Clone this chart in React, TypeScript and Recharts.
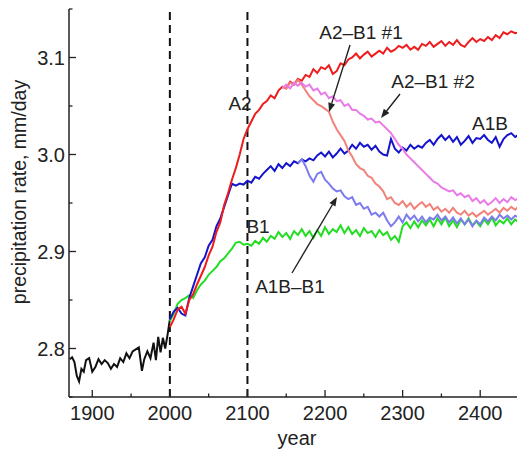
import { LineChart, Line, XAxis, YAxis, ReferenceLine } from "recharts";

// historical run
const histYears = [
  1871, 1874, 1877, 1880, 1883, 1886, 1889, 1892, 1896, 1900, 1904, 1908, 1912,
  1916, 1920, 1924, 1928, 1932, 1936, 1940, 1944, 1948, 1952, 1956, 1960, 1964,
  1967, 1971, 1975, 1979, 1982, 1985, 1988, 1991, 1994, 1997, 2000,
];
const histValues = [
  2.789, 2.791, 2.786, 2.772, 2.766, 2.779, 2.776, 2.788, 2.79, 2.776, 2.781, 2.789, 2.784,
  2.788, 2.785, 2.779, 2.784, 2.781, 2.79, 2.786, 2.795, 2.79, 2.797, 2.799, 2.801, 2.777,
  2.789, 2.797, 2.79, 2.806, 2.788, 2.812, 2.796, 2.811, 2.8, 2.814, 2.83,
];

// scenarios, 5-year steps from 2000
const scenarioYears = Array.from({ length: 91 }, (_, i) => 2000 + 5 * i);

const a2Values = [
  2.822, 2.83, 2.84, 2.843, 2.836, 2.85, 2.856, 2.866, 2.875, 2.884,
  2.896, 2.905, 2.92, 2.93, 2.948, 2.96, 2.974, 2.986, 3.0, 3.016,
  3.026, 3.034, 3.042, 3.046, 3.052, 3.055, 3.061, 3.058, 3.066, 3.07,
  3.068, 3.075, 3.072, 3.078, 3.076, 3.082, 3.08, 3.088, 3.084, 3.09,
  3.088, 3.092, 3.083, 3.086, 3.094, 3.092, 3.098, 3.1, 3.104, 3.099,
  3.103, 3.106, 3.101, 3.104, 3.107, 3.104, 3.11, 3.106, 3.108, 3.112,
  3.11, 3.113, 3.108, 3.111, 3.108, 3.114, 3.112, 3.116, 3.111, 3.114,
  3.117, 3.112, 3.116, 3.113, 3.118, 3.113, 3.111, 3.116, 3.12, 3.116,
  3.119, 3.117, 3.121, 3.118, 3.123, 3.12, 3.126, 3.124, 3.127, 3.125,
  3.126,
];

const a1bValues = [
  2.83, 2.838, 2.842, 2.836, 2.834, 2.852, 2.864, 2.876, 2.888, 2.894,
  2.906, 2.912, 2.926, 2.934, 2.946, 2.958, 2.97, 2.968, 2.97, 2.969,
  2.973, 2.971, 2.977, 2.975, 2.98, 2.984, 2.988, 2.983, 2.99, 2.986,
  2.991, 2.988, 2.993, 2.991, 2.995, 2.993, 2.996, 2.994, 2.999, 3.002,
  2.998, 3.003, 2.997, 3.001, 3.006, 3.001, 3.004, 3.01, 3.006, 3.012,
  3.008, 3.01, 3.005, 3.009, 3.003, 3.0, 2.999, 3.016, 3.006, 3.002,
  3.007, 3.004, 3.01, 3.006, 3.009, 3.007, 3.012, 3.015, 3.01, 3.016,
  3.02, 3.015, 3.019, 3.013, 3.018, 3.01, 3.014, 3.019, 3.012, 3.017,
  3.016, 3.02, 3.015, 3.012, 3.018, 3.008, 3.016, 3.02, 3.022, 3.018,
  3.021,
];

const b1Values = [
  2.828, 2.836, 2.846, 2.85, 2.852, 2.855, 2.852, 2.86, 2.866, 2.87,
  2.876, 2.88, 2.884, 2.89, 2.893, 2.898, 2.903, 2.909, 2.91, 2.907,
  2.908, 2.906, 2.911, 2.908, 2.914, 2.91, 2.916, 2.913, 2.92, 2.915,
  2.919, 2.913, 2.921, 2.917, 2.923, 2.916, 2.921, 2.914, 2.922, 2.916,
  2.925, 2.918, 2.923, 2.92, 2.927, 2.919, 2.925, 2.918, 2.922, 2.916,
  2.924, 2.919, 2.921, 2.915, 2.922, 2.917, 2.92, 2.912, 2.916, 2.91,
  2.926, 2.93, 2.924, 2.931, 2.925, 2.932, 2.927, 2.933, 2.926, 2.934,
  2.928, 2.935, 2.926, 2.932, 2.925, 2.933, 2.928, 2.934, 2.927, 2.931,
  2.926, 2.933, 2.928, 2.935, 2.927, 2.932, 2.929, 2.934, 2.928, 2.933,
  2.93,
];

// stabilisation runs branching off later
const a2b1Start = 2145;
const a2b1FirstValues = [
  3.07,
  3.068, 3.074, 3.072, 3.077, 3.072, 3.066, 3.06, 3.056, 3.052, 3.05,
  3.047, 3.044, 3.034, 3.026, 3.02, 3.014, 3.004, 2.998, 2.99, 2.986,
  2.984, 2.978, 2.976, 2.97, 2.967, 2.962, 2.954, 2.956, 2.95, 2.948,
  2.952, 2.946, 2.95, 2.944, 2.948, 2.951, 2.946, 2.949, 2.943, 2.946,
  2.941, 2.944, 2.94, 2.945, 2.94, 2.938, 2.942, 2.937, 2.94, 2.936,
  2.939, 2.942, 2.938, 2.941, 2.944, 2.94, 2.945, 2.942, 2.946, 2.943,
  2.947,
];
const a2b1SecondValues = [
  3.068,
  3.072, 3.068, 3.074, 3.071, 3.074, 3.07, 3.072, 3.066, 3.068, 3.062,
  3.064, 3.058, 3.06, 3.055, 3.056, 3.05, 3.052, 3.046, 3.046, 3.042,
  3.04, 3.036, 3.037, 3.033, 3.034, 3.03, 3.026, 3.022, 3.016, 3.01,
  3.006, 3.0, 2.996, 2.992, 2.988, 2.984, 2.98, 2.976, 2.972, 2.97,
  2.966, 2.964, 2.962, 2.963, 2.958, 2.96, 2.956, 2.958, 2.952, 2.955,
  2.95, 2.953, 2.948, 2.951, 2.955, 2.95, 2.954, 2.951, 2.956, 2.953,
  2.955,
];
const a1bb1Start = 2165;
const a1bb1Values = [
  2.991, 2.995, 2.988, 2.978, 2.972, 2.98, 2.982,
  2.974, 2.97, 2.965, 2.962, 2.963, 2.957, 2.954, 2.956, 2.948, 2.95,
  2.944, 2.946, 2.938, 2.94, 2.936, 2.94, 2.932, 2.926, 2.93, 2.936,
  2.93, 2.938, 2.933, 2.937, 2.931, 2.936, 2.93, 2.935, 2.933, 2.938,
  2.932, 2.936, 2.93, 2.935, 2.929, 2.934, 2.928, 2.933, 2.926, 2.932,
  2.928, 2.935, 2.931, 2.936, 2.932, 2.938, 2.934, 2.937, 2.933, 2.937,
  2.935,
];

const xTicks = [1900, 1950, 2000, 2050, 2100, 2150, 2200, 2250, 2300, 2350, 2400, 2450];
const yTicks = [2.75, 2.8, 2.85, 2.9, 2.95, 3.0, 3.05, 3.1, 3.15];

const toRows = (years: number[], values: number[]) =>
  years.map((year, i) => ({ year, value: values[i] }));

const fromYear = (start: number) => scenarioYears.filter((y) => y >= start);

const FONT = "'Liberation Sans', Arial, Helvetica, sans-serif";
const INK = "#222";

const isMajorX = (v: number) => v % 100 === 0;
const isMajorY = (v: number) => Math.abs(v * 10 - Math.round(v * 10)) < 1e-6;

function BottomTick({ x, y, payload }: any) {
  const major = isMajorX(payload.value);
  return (
    <g>
      <line x1={x} x2={x} y1={y} y2={y - (major ? 7 : 3.5)} stroke={INK} strokeWidth={1.3} />
      {major && (
        <text x={x} y={y + 23} textAnchor="middle" fontSize={20} fontFamily={FONT} fill={INK}>
          {payload.value}
        </text>
      )}
    </g>
  );
}

function TopTick({ x, y, payload }: any) {
  const major = isMajorX(payload.value);
  return <line x1={x} x2={x} y1={y} y2={y + (major ? 7 : 3.5)} stroke={INK} strokeWidth={1.3} />;
}

function LeftTick({ x, y, payload }: any) {
  const major = isMajorY(payload.value);
  return (
    <g>
      <line x1={x} x2={x + (major ? 7 : 3.5)} y1={y} y2={y} stroke={INK} strokeWidth={1.3} />
      {major && (
        <text x={x - 4} y={y + 7} textAnchor="end" fontSize={20} fontFamily={FONT} fill={INK}>
          {payload.value.toFixed(1)}
        </text>
      )}
    </g>
  );
}

function RightTick({ x, y, payload }: any) {
  const major = isMajorY(payload.value);
  return <line x1={x} x2={x - (major ? 7 : 3.5)} y1={y} y2={y} stroke={INK} strokeWidth={1.3} />;
}

function Arrow({ x1, y1, x2, y2 }: { x1: number; y1: number; x2: number; y2: number }) {
  const dx = x2 - x1;
  const dy = y2 - y1;
  const len = Math.hypot(dx, dy);
  const ux = dx / len;
  const uy = dy / len;
  const hl = 9;
  const hw = 3.5;
  const bx = x2 - ux * hl;
  const by = y2 - uy * hl;
  return (
    <g>
      <line x1={x1} y1={y1} x2={bx} y2={by} stroke={INK} strokeWidth={1.4} />
      <polygon
        points={`${x2},${y2} ${bx - uy * hw},${by + ux * hw} ${bx + uy * hw},${by - ux * hw}`}
        fill={INK}
      />
    </g>
  );
}

const lineProps = {
  xAxisId: "b",
  yAxisId: "l",
  dataKey: "value",
  type: "linear" as const,
  dot: false,
  strokeWidth: 2,
  isAnimationActive: false,
};

export default function App() {
  return (
    <div
      style={{
        position: "absolute",
        left: 0,
        top: 0,
        width: 517,
        height: 452,
        overflow: "hidden",
        background: "#fff",
      }}
    >
      <LineChart width={530} height={452} margin={{ top: 9, right: 11, bottom: 25, left: 0 }}>
        <XAxis
          xAxisId="b"
          type="number"
          dataKey="year"
          domain={[1870, 2450]}
          allowDataOverflow
          ticks={xTicks}
          interval={0}
          height={30}
          tickSize={0}
          tickMargin={0}
          tickLine={false}
          axisLine={{ stroke: INK, strokeWidth: 1.5 }}
          tick={<BottomTick />}
        />
        <XAxis
          xAxisId="t"
          orientation="top"
          type="number"
          dataKey="year"
          domain={[1870, 2450]}
          allowDataOverflow
          ticks={xTicks}
          interval={0}
          height={0}
          tickSize={0}
          tickMargin={0}
          tickLine={false}
          axisLine={{ stroke: INK, strokeWidth: 1.5 }}
          tick={<TopTick />}
        />
        <YAxis
          yAxisId="l"
          type="number"
          domain={[2.75, 3.15]}
          allowDataOverflow
          ticks={yTicks}
          interval={0}
          width={69}
          tickSize={0}
          tickMargin={0}
          tickLine={false}
          axisLine={{ stroke: INK, strokeWidth: 1.5 }}
          tick={<LeftTick />}
        />
        <YAxis
          yAxisId="r"
          orientation="right"
          type="number"
          domain={[2.75, 3.15]}
          allowDataOverflow
          ticks={yTicks}
          interval={0}
          width={0}
          tickSize={0}
          tickMargin={0}
          tickLine={false}
          axisLine={{ stroke: INK, strokeWidth: 1.5 }}
          tick={<RightTick />}
        />
        <ReferenceLine xAxisId="b" yAxisId="l" x={2000} stroke="#111" strokeWidth={2} strokeDasharray="8 5" />
        <ReferenceLine xAxisId="b" yAxisId="l" x={2100} stroke="#111" strokeWidth={2} strokeDasharray="8 5" />
        <Line {...lineProps} data={toRows(histYears, histValues)} stroke="#111111" />
        <Line {...lineProps} data={toRows(scenarioYears, b1Values)} stroke="#22dd22" />
        <Line {...lineProps} data={toRows(scenarioYears, a1bValues)} stroke="#1414cc" />
        <Line {...lineProps} data={toRows(scenarioYears, a2Values)} stroke="#ee1c1c" />
        <Line {...lineProps} data={toRows(fromYear(a1bb1Start), a1bb1Values)} stroke="#7c7cee" />
        <Line {...lineProps} data={toRows(fromYear(a2b1Start), a2b1FirstValues)} stroke="#f0827a" />
        <Line {...lineProps} data={toRows(fromYear(a2b1Start), a2b1SecondValues)} stroke="#ea7ae8" />
      </LineChart>

      <svg
        width={517}
        height={452}
        style={{ position: "absolute", left: 0, top: 0, pointerEvents: "none" }}
        fontFamily={FONT}
        fill={INK}
      >
        <text x={240} y={110} fontSize={19} textAnchor="middle">A2</text>
        <text x={258} y={233} fontSize={19} textAnchor="middle">B1</text>
        <text x={490} y={130} fontSize={19} textAnchor="middle">A1B</text>
        <text x={361} y={39} fontSize={19} textAnchor="middle">A2–B1 #1</text>
        <text x={433} y={88} fontSize={19} textAnchor="middle">A2–B1 #2</text>
        <text x={290} y={293} fontSize={19} textAnchor="middle">A1B–B1</text>
        <Arrow x1={350} y1={45} x2={329} y2={112} />
        <Arrow x1={400} y1={94} x2={381} y2={118} />
        <Arrow x1={292} y1={273} x2={337} y2={197} />
        <text
          x={19}
          y={192}
          fontSize={19.5}
          textAnchor="middle"
          dominantBaseline="central"
          transform="rotate(-90 19 192)"
        >
          precipitation rate, mm/day
        </text>
        <text x={297} y={445} fontSize={20} textAnchor="middle">year</text>
      </svg>
    </div>
  );
}
